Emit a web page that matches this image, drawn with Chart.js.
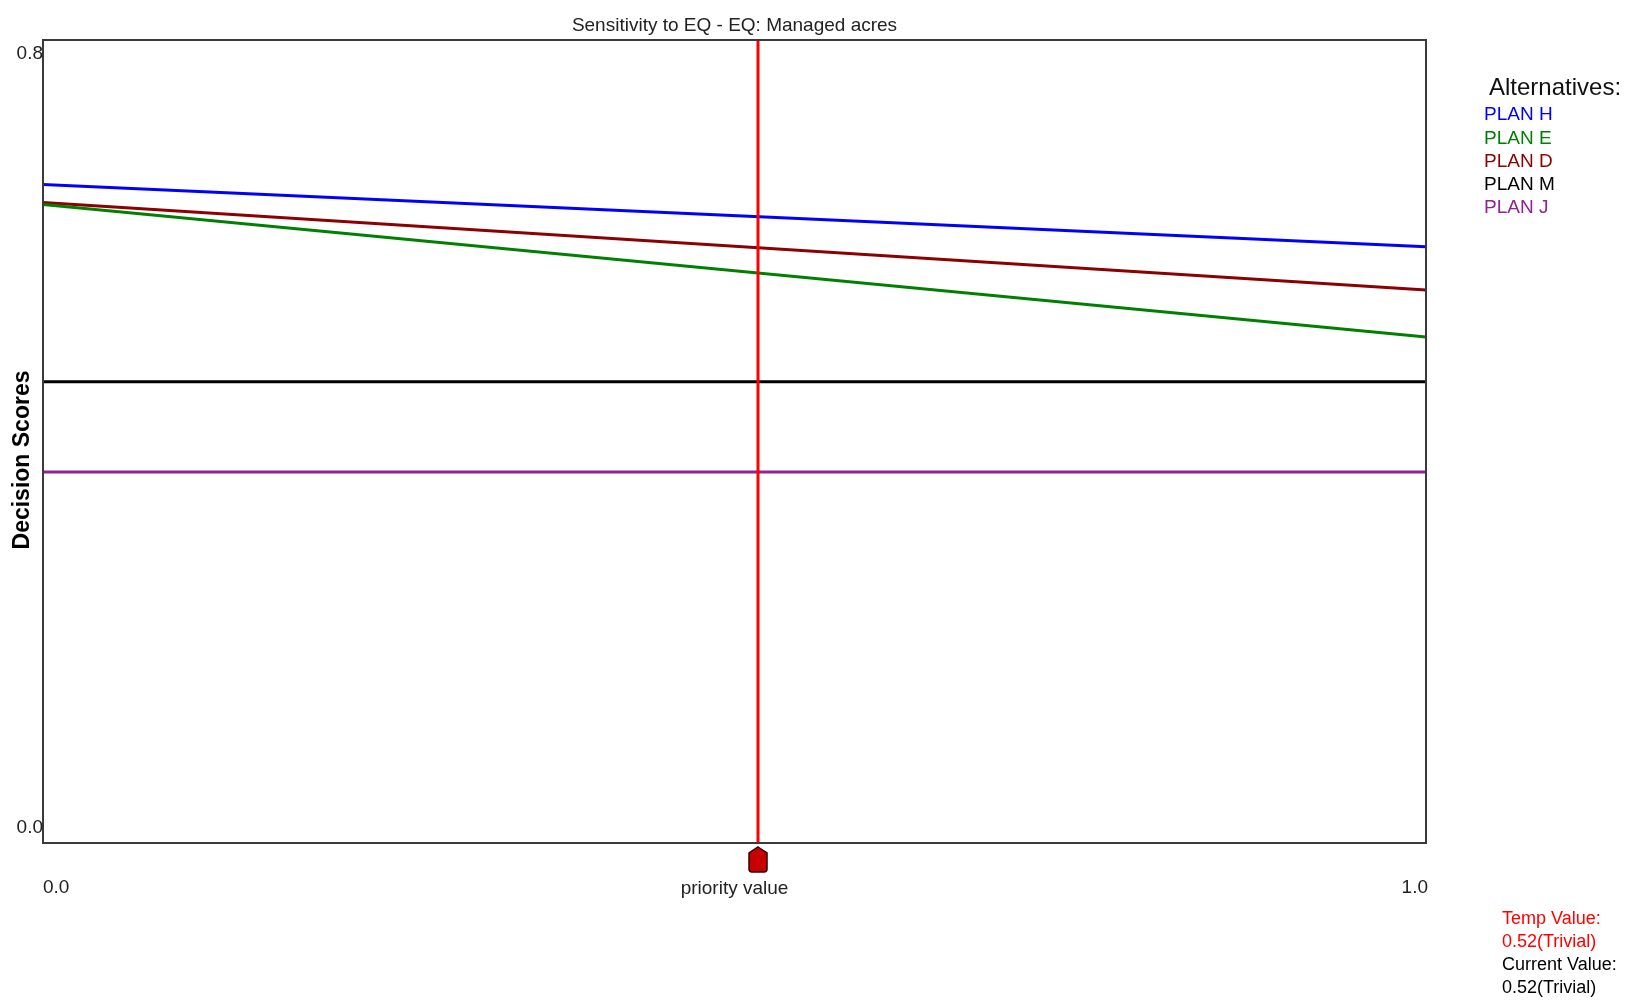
<!DOCTYPE html>
<html>
<head>
<meta charset="utf-8">
<title>Sensitivity to EQ - EQ: Managed acres</title>
<script src="https://cdn.jsdelivr.net/npm/chart.js@4.4.1/dist/chart.umd.min.js"></script>
<style>
  body { margin: 0; background: #fff; }
  #wrap { width: 1627px; height: 1005px; }
</style>
</head>
<body>
<div id="wrap"><canvas id="sensChart" width="1627" height="1005"></canvas></div>
<script>
// Données
const planNames = ['PLAN H', 'PLAN E', 'PLAN D', 'PLAN M', 'PLAN J'];
const planColors = ['#0000ff', '#008000', '#8b0000', '#000000', '#8e2296'];
const xRange = [0, 1];
const scoreAtZero = [0.656, 0.636, 0.638, 0.4595, 0.3696];
const scoreAtOne  = [0.594, 0.504, 0.551, 0.4595, 0.3696];
const priorityValue = 0.517;
const yTicks = ['0.0', '0.8'];
const xTicks = ['0.0', '1.0'];
const infoLines = ['Temp Value:', '0.52(Trivial)', 'Current Value:', '0.52(Trivial)'];
const infoColors = ['#ff0000', '#ff0000', '#000000', '#000000'];

const FONT = '"Liberation Sans", Arial, sans-serif';

// lignes des alternatives
const planDatasets = planNames.map((name, i) => ({
    label: name,
    data: [
        { x: xRange[0], y: scoreAtZero[i] },
        { x: xRange[1], y: scoreAtOne[i] }
    ],
    borderColor: planColors[i],
    backgroundColor: planColors[i],
    borderWidth: 3,
    pointRadius: 0,
    tension: 0,
}));

// ligne rouge de la priorité (index 0 = dessinée par-dessus)
const priorityDataset = {
    label: 'priority',
    data: [
        { x: priorityValue, y: 0 },
        { x: priorityValue, y: 0.8 }
    ],
    borderColor: '#ff0000',
    borderWidth: 3,
    pointRadius: 0,
};

// textes, cadre, légende
const decorPlugin = {
    id: 'decor',
    afterDraw(chart) {
        const c = chart.ctx;
        const a = chart.chartArea;
        const xs = chart.scales.x;
        const ys = chart.scales.y;
        c.save();

        // cadre
        c.strokeStyle = '#3a3a3a';
        c.lineWidth = 2;
        c.strokeRect(a.left, a.top, a.right - a.left, a.bottom - a.top);

        // titre
        c.fillStyle = '#222';
        c.font = '19px ' + FONT;
        c.textAlign = 'center';
        c.textBaseline = 'middle';
        c.fillText('Sensitivity to EQ - EQ: Managed acres', (a.left + a.right) / 2, 26);

        // ticks y
        c.textAlign = 'right';
        c.fillText(yTicks[1], a.left, ys.getPixelForValue(0.8) + 14);
        c.fillText(yTicks[0], a.left, ys.getPixelForValue(0) - 15);

        // ticks x
        c.textAlign = 'left';
        c.fillText(xTicks[0], xs.getPixelForValue(0), 888);
        c.textAlign = 'right';
        c.fillText(xTicks[1], xs.getPixelForValue(1) + 2, 888);
        c.textAlign = 'center';
        c.fillText('priority value', (a.left + a.right) / 2, 889);

        // titre axe y
        c.save();
        c.translate(23, 460);
        c.rotate(-Math.PI / 2);
        c.font = 'bold 23px ' + FONT;
        c.fillStyle = '#000';
        c.fillText('Decision Scores', 0, 0);
        c.restore();

        // curseur sous la ligne rouge
        const px = xs.getPixelForValue(priorityValue);
        const top = a.bottom + 4;
        c.beginPath();
        c.moveTo(px, top);
        c.lineTo(px + 9, top + 6);
        c.lineTo(px + 9, top + 22);
        c.quadraticCurveTo(px + 9, top + 25, px + 6, top + 25);
        c.lineTo(px - 6, top + 25);
        c.quadraticCurveTo(px - 9, top + 25, px - 9, top + 22);
        c.lineTo(px - 9, top + 6);
        c.closePath();
        c.fillStyle = '#c80000';
        c.fill();
        c.strokeStyle = '#300000';
        c.lineWidth = 1.5;
        c.stroke();

        // légende
        c.textAlign = 'left';
        c.fillStyle = '#111';
        c.font = '24px ' + FONT;
        c.fillText('Alternatives:', 1489, 88);
        c.font = '19px ' + FONT;
        planNames.forEach((name, i) => {
            c.fillStyle = planColors[i];
            c.fillText(name, 1484, 115 + i * 23.3);
        });

        // valeurs en bas à droite
        c.font = '18px ' + FONT;
        infoLines.forEach((t, i) => {
            c.fillStyle = infoColors[i];
            c.fillText(t, 1502, 919 + i * 23);
        });

        c.restore();
    }
};

const ctx = document.getElementById('sensChart').getContext('2d');
const sensChart = new Chart(ctx, {
    type: 'line',
    data: {
        datasets: [priorityDataset, ...planDatasets]
    },
    options: {
        responsive: false,
        animation: false,
        devicePixelRatio: 1,
        layout: {
            padding: { left: 43, top: 40, right: 201, bottom: 162 }
        },
        plugins: {
            legend: { display: false },
            tooltip: { enabled: false },
            title: { display: false }
        },
        scales: {
            x: { type: 'linear', min: 0, max: 1, display: false },
            y: { type: 'linear', min: 0, max: 0.8, display: false }
        }
    },
    plugins: [decorPlugin]
});
</script>
</body>
</html>
